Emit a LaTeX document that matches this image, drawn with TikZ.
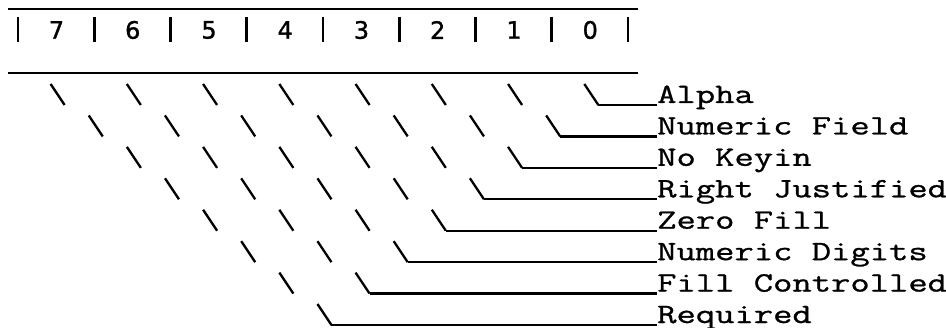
\documentclass[tikz,border=0pt]{standalone}
\usepackage{fontspec}
\newfontfamily\lblfont[FakeStretch=1.34,FakeBold=1.0]{Latin Modern Mono}
\newfontfamily\hdrfont[FakeBold=1.2]{DejaVu Sans}
\begin{document}
\begin{tikzpicture}[x=1pt,y=-1pt,
  rule/.style={line width=2pt},
  bar/.style={line width=2.8pt},
  slash/.style={line width=2.3pt},
  lbl/.style={anchor=base west, inner sep=0pt, font=\lblfont\fontsize{28}{30}\selectfont},
  digit/.style={anchor=center, inner sep=0pt, font=\hdrfont\fontsize{24}{26}\selectfont}]
\useasboundingbox (0,0) rectangle (946,328);
% header rules
\coordinate (tl) at (8,9);  \coordinate (tr) at (638,9);
\coordinate (bl) at (8,73); \coordinate (br) at (638,73);
\draw[rule] (tl) -- (tr);
\draw[rule] (bl) -- (br);
% bars
\foreach \i in {0,...,8} {
  \coordinate (bt\i) at ({18+76.25*\i},17);
  \coordinate (bb\i) at ({18+76.25*\i},42);
  \draw[bar] (bt\i) -- (bb\i);
}
% digits
\foreach \d [count=\i from 0] in {7,6,5,4,3,2,1,0} {
  \node[digit] (d\d) at ({56.5+76.25*\i},30) {\d};
}
% labels
\foreach \t [count=\k] in {Alpha,Numeric Field,No Keyin,Right Justified,Zero Fill,Numeric Digits,Fill Controlled,Required} {
  \node[lbl] (l\k) at (657,{103+31.43*(\k-1)}) {\t};
}
% backslashes and leaders
\foreach \k in {1,...,8} {
  \pgfmathtruncatemacro\jmax{8-\k}
  \pgfmathsetmacro\yb{103+31.43*(\k-1)}
  \foreach \j in {0,...,\jmax} {
    \pgfmathsetmacro\xc{19.5+19.06*(2*\k+4*\j)}
    \coordinate (s\k a\j) at ({\xc-7},{\yb-19});
    \coordinate (s\k b\j) at ({\xc+7},{\yb+2});
    \draw[slash] (s\k a\j) -- (s\k b\j);
  }
  \draw[slash] (s\k b\jmax) -- (s\k b\jmax -| l\k.west);
}
\end{tikzpicture}
\end{document}
